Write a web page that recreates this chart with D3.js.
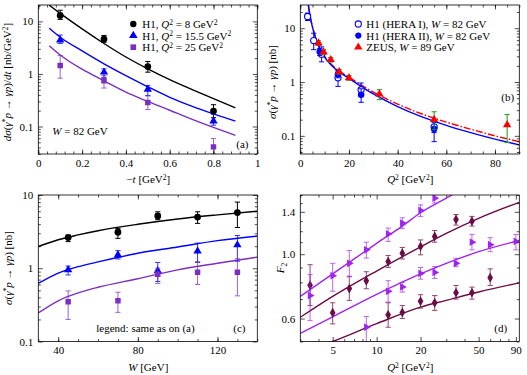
<!DOCTYPE html>
<html>
<head>
<meta charset="utf-8">
<script src="https://cdn.jsdelivr.net/npm/d3@7"></script>
<style>
body { margin: 0; background: #fff; }
svg, svg text { font-family: "Liberation Serif", "Times New Roman", "DejaVu Serif", serif; font-size: 11px; }
</style>
</head>
<body>
<svg id="fig" width="527" height="375"></svg>
<script>
var FONT = '"Liberation Serif", "Times New Roman", serif';

// ---- panel (a): d sigma / dt at W = 82 GeV
var tValues = [0.1, 0.3, 0.5, 0.8];
var a8 = [13.0, 4.6, 1.38, 0.197];
var a8Lo = [10.9, 4.0, 1.08, 0.147];
var a8Hi = [16.3, 5.4, 1.73, 0.26];
var a15 = [4.4, 1.08, 0.51, 0.127];
var a15Lo = [3.8, 0.86, 0.39, 0.106];
var a15Hi = [5.5, 1.25, 0.6, 0.17];
var a25 = [1.45, 0.74, 0.285, 0.041];
var a25Lo = [0.83, 0.54, 0.21, 0.03];
var a25Hi = [2.25, 0.93, 0.38, 0.059];
var tCurve = [0.05, 0.1, 0.2, 0.3, 0.4, 0.5, 0.6, 0.7, 0.8, 0.9];
var fitA8 = [20.3, 14.2, 7.2, 3.8, 2.1, 1.25, 0.78, 0.51, 0.34, 0.226];
var fitA15 = [7.4, 5.0, 2.75, 1.56, 0.93, 0.57, 0.36, 0.245, 0.174, 0.127];
var fitA25 = [3.45, 2.3, 1.23, 0.74, 0.45, 0.30, 0.204, 0.138, 0.096, 0.068];

// ---- panel (b): sigma vs Q2
var heraIQ2 = [3, 5.5, 8.75, 15.5, 25, 55];
var heraI = [16.5, 5.9, 3.3, 1.2, 0.72, 0.147];
var heraILo = [13.9, 4.0, 2.37, 0.83, 0.56, 0.115];
var heraIHi = [19.1, 8.06, 4.5, 1.54, 0.96, 0.178];
var heraIIQ2 = [8, 15.5, 25, 55];
var heraII = [3.65, 1.4, 0.58, 0.134];
var heraIILo = [3.1, 1.2, 0.42, 0.078];
var heraIIHi = [4.2, 1.65, 0.75, 0.19];
var zeusQ2 = [7.5, 9.6, 12.5, 16, 20, 32.5, 55, 85];
var zeus = [5.3, 3.6, 2.6, 1.55, 1.2, 0.6, 0.2, 0.16];
var zeusLo = [4.8, 3.2, 2.35, 1.4, 1.08, 0.47, 0.13, 0.075];
var zeusHi = [5.8, 4.0, 2.85, 1.72, 1.32, 0.72, 0.28, 0.25];
var bCurveQ2 = [3.3, 4, 5, 6, 8, 10, 15, 20, 30, 40, 50, 60, 70, 80, 90];
var fitB82 = [27, 17, 10.5, 7.3, 4.1, 2.9, 1.65, 1.17, 0.6, 0.35, 0.225, 0.157, 0.115, 0.087, 0.068];
var fitB89 = [27, 17, 10.7, 7.4, 4.2, 3.0, 1.72, 1.23, 0.65, 0.39, 0.255, 0.18, 0.133, 0.1, 0.078];

// ---- panel (c): sigma vs W
var wValues = [45, 70, 90, 110, 130];
var c8 = [2.62, 3.1, 5.17, 5.0, 5.75];
var c8Lo = [2.31, 2.56, 4.6, 4.1, 3.6];
var c8Hi = [2.85, 3.5, 5.9, 5.9, 8.0];
var c15 = [0.95, 1.52, 0.92, 1.72, 2.08];
var c15Lo = [0.81, 1.34, 0.66, 1.2, 1.25];
var c15Hi = [1.07, 1.74, 1.2, 2.2, 2.8];
var c25 = [0.35, 0.36, 0.83, 0.88, 0.88];
var c25Lo = [0.2, 0.25, 0.62, 0.6, 0.42];
var c25Hi = [0.49, 0.47, 1.0, 1.23, 1.35];
var wCurve = [30, 40, 50, 60, 80, 100, 120, 140];
var fitC8 = [1.98, 2.45, 2.85, 3.25, 3.98, 4.7, 5.35, 6.0];
var fitC15 = [0.62, 0.86, 1.05, 1.22, 1.6, 1.95, 2.38, 2.75];
var fitC25 = [0.245, 0.36, 0.46, 0.55, 0.72, 0.95, 1.17, 1.42];

// ---- panel (d): F2 vs Q2
var dDiaQ2 = [3.5, 5, 6.5, 8.5, 12, 12, 15, 15, 20, 20, 25, 25, 35, 35, 45, 45, 60];
var dDia = [0.782, 0.628, 0.761, 0.81, 0.943, 0.618, 1.008, 0.63, 1.064, 0.688, 1.152, 0.68, 1.317, 0.737, 1.3, 0.737, 0.83];
var dDiaLo = [0.665, 0.575, 0.693, 0.76, 0.90, 0.56, 0.963, 0.6, 0.995, 0.652, 1.1, 0.64, 1.26, 0.70, 1.25, 0.70, 0.78];
var dDiaHi = [0.92, 0.68, 0.836, 0.87, 0.99, 0.68, 1.055, 0.665, 1.12, 0.725, 1.206, 0.72, 1.37, 0.78, 1.35, 0.77, 0.89];
var dTriQ2 = [3.5, 5, 6.5, 8.5, 8.5, 12, 12, 15, 15, 20, 20, 25, 25, 35, 45, 60, 90];
var dTri = [0.72, 0.843, 0.93, 1.035, 0.56, 1.174, 0.745, 1.28, 0.771, 1.416, 0.858, 1.56, 0.865, 0.93, 1.1, 1.078, 1.107];
var dTriLo = [0.59, 0.745, 0.84, 0.97, 0.5, 1.107, 0.684, 1.225, 0.74, 1.35, 0.82, 1.5, 0.825, 0.906, 1.035, 1.02, 1.035];
var dTriHi = [0.85, 0.93, 1.03, 1.1, 0.61, 1.23, 0.81, 1.335, 0.80, 1.48, 0.9, 1.6, 0.906, 0.968, 1.17, 1.14, 1.17];
var dCurveQ2 = [3, 5, 10, 20, 30, 50, 95];
var fitD1 = [0.454, 0.5, 0.576, 0.657, 0.693, 0.741, 0.796];
var fitD2 = [0.533, 0.608, 0.727, 0.855, 0.93, 1.02, 1.115];
var fitD3 = [0.606, 0.715, 0.875, 1.06, 1.18, 1.33, 1.51];
var dCurveQ2b = [3, 5, 8.5, 10, 15, 20, 30, 35];
var fitD4 = [0.715, 0.855, 1.03, 1.09, 1.25, 1.39, 1.56, 1.63];

var black = '#000', blue = '#0000ff', purple = '#7b2fc0', red = '#ff0000', green = '#1e9a1e';
var maroon = '#6a0c45', violet = '#a024ee';

var svg = d3.select('#fig').attr('font-family', FONT);
var clipId = 0;

function panel(left, top, width, height, x, y) {
    var g = svg.append('g').attr('transform', 'translate(' + left + ',' + top + ')');
    var id = 'clip' + (clipId++);
    g.append('clipPath').attr('id', id)
        .append('rect').attr('width', width).attr('height', height);
    var plot = g.append('g').attr('clip-path', 'url(#' + id + ')');
    return { g: g, plot: plot, w: width, h: height, x: x, y: y };
}

function styleAxis(a) {
    a.select('.domain').remove();
    a.attr('font-family', FONT).attr('font-size', 11);
    a.selectAll('line').attr('stroke', '#000').attr('stroke-width', 0.7);
    a.selectAll('text').attr('fill', '#000').style('font-family', FONT).style('font-size', '11px');
}

function axes(p, xMaj, xMin, yMaj, yMin, xFmt, yFmt) {
    var sets = [
        [d3.axisBottom, p.x, 'translate(0,' + p.h + ')', xMaj, xMin, xFmt],
        [d3.axisTop, p.x, null, xMaj, xMin, null],
        [d3.axisLeft, p.y, null, yMaj, yMin, yFmt],
        [d3.axisRight, p.y, 'translate(' + p.w + ',0)', yMaj, yMin, null]
    ];
    sets.forEach(function(s) {
        var major = s[0](s[1]).tickValues(s[3]).tickSize(-4.5).tickPadding(5)
            .tickFormat(s[5] ? s[5] : function() { return ''; });
        var minor = s[0](s[1]).tickValues(s[4]).tickSize(-2.5).tickFormat(function() { return ''; });
        var a1 = p.g.append('g').call(major);
        var a2 = p.g.append('g').call(minor);
        if (s[2]) { a1.attr('transform', s[2]); a2.attr('transform', s[2]); }
        styleAxis(a1); styleAxis(a2);
    });
    p.g.append('rect').attr('width', p.w).attr('height', p.h)
        .attr('fill', 'none').attr('stroke', '#000').attr('stroke-width', 0.8);
}

function curve(p, xs, ys, color, dash) {
    var line = d3.line()
        .x(function(d) { return p.x(d[0]); })
        .y(function(d) { return p.y(d[1]); })
        .curve(d3.curveMonotoneX);
    p.plot.append('path')
        .datum(xs.map(function(v, i) { return [v, ys[i]]; }))
        .attr('d', line)
        .attr('fill', 'none')
        .attr('stroke', color)
        .attr('stroke-width', 1.4)
        .attr('stroke-dasharray', dash || null);
}

function points(p, xs, ys, lo, hi, o) {
    var data = xs.map(function(v, i) { return { x: v, y: ys[i], lo: lo[i], hi: hi[i] }; });
    var gg = p.plot.append('g');
    var e = gg.selectAll('.err').data(data).enter().append('g')
        .attr('stroke', o.err || o.color).attr('stroke-width', 1).attr('opacity', o.errOpacity || 1);
    e.append('line')
        .attr('x1', function(d) { return p.x(d.x); }).attr('x2', function(d) { return p.x(d.x); })
        .attr('y1', function(d) { return p.y(d.lo); }).attr('y2', function(d) { return p.y(d.hi); });
    ['lo', 'hi'].forEach(function(k) {
        e.append('line')
            .attr('x1', function(d) { return p.x(d.x) - 2.6; }).attr('x2', function(d) { return p.x(d.x) + 2.6; })
            .attr('y1', function(d) { return p.y(d[k]); }).attr('y2', function(d) { return p.y(d[k]); });
    });
    gg.selectAll('.pt').data(data).enter().append('path')
        .attr('d', d3.symbol().type(o.type).size(o.size || 32))
        .attr('transform', function(d) {
            return 'translate(' + p.x(d.x) + ',' + p.y(d.y) + ')' + (o.rotate ? ' rotate(' + o.rotate + ')' : '');
        })
        .attr('fill', o.open ? '#fff' : o.color)
        .attr('stroke', o.color)
        .attr('stroke-width', o.open ? 1.1 : 0);
}

function rich(sel, parts) {
    var shift = 0;
    parts.forEach(function(pt) {
        var target = pt[1] === 'sup' ? -3.5 : pt[1] === 'sub' ? 3 : 0;
        var ts = sel.append('tspan').text(pt[0]).attr('dy', target - shift);
        shift = target;
        if (pt[1] === 'i') ts.style('font-style', 'italic');
        if (pt[1] === 'sup' || pt[1] === 'sub') ts.style('font-size', '7.5px');
    });
    return sel;
}

function label(p, x, y, parts, anchor, rot) {
    var t = p.g.append('text').attr('fill', '#000').attr('text-anchor', anchor || 'start')
        .style('font-family', FONT).style('font-size', '11px');
    if (rot) t.attr('transform', 'translate(' + x + ',' + y + ') rotate(-90)');
    else t.attr('x', x).attr('y', y);
    return rich(t, parts);
}

function logTicks(scale) {
    var all = scale.ticks();
    var maj = all.filter(function(v) { return Math.abs(Math.log10(v) - Math.round(Math.log10(v))) < 1e-9; });
    var min = all.filter(function(v) { return maj.indexOf(v) < 0; });
    return [maj, min];
}
var fmtLog = function(v) { return v >= 1 ? d3.format('d')(v) : String(v); };

// ================= (a)
var pa = panel(38.3, 5, 219, 149,
    d3.scaleLinear().domain([0, 1]).range([0, 219]),
    d3.scaleLog().domain([0.03, 20.5]).range([149, 0]));
var ya = logTicks(pa.y);
axes(pa, d3.range(0, 1.01, 0.2), d3.range(0, 1.001, 0.04), ya[0], ya[1],
    function(v) { return v === 0 || v === 1 ? d3.format('d')(v) : d3.format('.1f')(v); }, fmtLog);
curve(pa, tCurve, fitA8, black);
curve(pa, tCurve, fitA15, blue);
curve(pa, tCurve, fitA25, purple);
points(pa, tValues, a8, a8Lo, a8Hi, { type: d3.symbolCircle, color: black, size: 36 });
points(pa, tValues, a15, a15Lo, a15Hi, { type: d3.symbolTriangle, color: blue, size: 30, errOpacity: 0.8 });
points(pa, tValues, a25, a25Lo, a25Hi, { type: d3.symbolSquare, color: purple, size: 30, errOpacity: 0.75 });
var legA = [[black, d3.symbolCircle, '8'], [blue, d3.symbolTriangle, '15.5'], [purple, d3.symbolSquare, '25']];
legA.forEach(function(l, i) {
    var yy = 19 + i * 11.6;
    pa.g.append('path').attr('d', d3.symbol().type(l[1]).size(32))
        .attr('transform', 'translate(95,' + yy + ')').attr('fill', l[0]);
    label(pa, 104, yy + 4, [['H1, '], ['Q', 'i'], ['2', 'sup'], [' = ' + l[2] + ' GeV'], ['2', 'sup']]);
});
label(pa, 14, 130, [['W', 'i'], [' = 82 GeV']]);
label(pa, 198, 143, [['(a)']]);
label(pa, 110, 178, [['\u2212'], ['t', 'i'], [' [GeV'], ['2', 'sup'], [']']], 'middle');
label(pa, -27, 77, [['d\u03c3', 'i'], ['('], ['\u03b3', 'i'], ['*', 'sup'], ['p', 'i'], [' \u2192 '], ['\u03b3p', 'i'], [')/'], ['dt', 'i'], [' [nb/GeV'], ['2', 'sup'], [']']], 'middle', true);

// ================= (b)
var pb = panel(300.3, 5, 219, 149,
    d3.scaleLinear().domain([0, 90]).range([0, 219]),
    d3.scaleLog().domain([0.046, 27]).range([149, 0]));
var yb = logTicks(pb.y);
axes(pb, d3.range(0, 81, 20), d3.range(0, 91, 5), yb[0], yb[1], d3.format('d'), fmtLog);
curve(pb, bCurveQ2, fitB89, red, '7,2,1.5,2');
curve(pb, bCurveQ2, fitB82, blue);
points(pb, heraIQ2, heraI, heraILo, heraIHi, { type: d3.symbolCircle, color: blue, size: 30, open: true });
points(pb, heraIIQ2, heraII, heraIILo, heraIIHi, { type: d3.symbolCircle, color: blue, size: 34 });
points(pb, zeusQ2, zeus, zeusLo, zeusHi, { type: d3.symbolTriangle, color: red, size: 30, err: green });
var legB = [[blue, d3.symbolCircle, true, 'H1 (HERA I), ', '82'], [blue, d3.symbolCircle, false, 'H1 (HERA II), ', '82'], [red, d3.symbolTriangle, false, 'ZEUS, ', '89']];
legB.forEach(function(l, i) {
    var yy = 19 + i * 11.6;
    pb.g.append('path').attr('d', d3.symbol().type(l[1]).size(30))
        .attr('transform', 'translate(58,' + yy + ')')
        .attr('fill', l[2] ? '#fff' : l[0]).attr('stroke', l[0]).attr('stroke-width', l[2] ? 1.1 : 0);
    label(pb, 66, yy + 4, [[l[3]], ['W', 'i'], [' = ' + l[4] + ' GeV']]);
});
label(pb, 201, 96, [['(b)']]);
label(pb, 110, 178, [['Q', 'i'], ['2', 'sup'], ['  [GeV'], ['2', 'sup'], [']']], 'middle');
label(pb, -24, 77, [['\u03c3', 'i'], ['('], ['\u03b3', 'i'], ['*', 'sup'], ['p', 'i'], [' \u2192 '], ['\u03b3p', 'i'], [') [nb]']], 'middle', true);

// ================= (c)
var pc = panel(38.3, 195, 219, 146.5,
    d3.scaleLinear().domain([30, 140]).range([0, 219]),
    d3.scaleLog().domain([0.1, 10]).range([146.5, 0]));
var yc = logTicks(pc.y);
axes(pc, [40, 80, 120], d3.range(30, 141, 10), yc[0], yc[1], d3.format('d'), fmtLog);
curve(pc, wCurve, fitC8, black);
curve(pc, wCurve, fitC15, blue);
curve(pc, wCurve, fitC25, purple);
points(pc, wValues, c8, c8Lo, c8Hi, { type: d3.symbolCircle, color: black, size: 36 });
points(pc, wValues, c15, c15Lo, c15Hi, { type: d3.symbolTriangle, color: blue, size: 30, errOpacity: 0.8 });
points(pc, wValues, c25, c25Lo, c25Hi, { type: d3.symbolSquare, color: purple, size: 30, errOpacity: 0.75 });
label(pc, 58, 137, [['legend: same as on (a)']]);
label(pc, 195, 137, [['(c)']]);
label(pc, 110, 176, [['W', 'i'], ['  [GeV]']], 'middle');
label(pc, -26, 73, [['\u03c3', 'i'], ['('], ['\u03b3', 'i'], ['*', 'sup'], ['p', 'i'], [' \u2192 '], ['\u03b3p', 'i'], [') [nb]']], 'middle', true);

// ================= (d)
var pd = panel(300.3, 195, 219, 146.5,
    d3.scaleLog().domain([3, 95]).range([0, 219]),
    d3.scaleLog().domain([0.5, 1.6]).range([146.5, 0]));
var xdMaj = [5, 10, 20, 50, 90];
var xdMin = pd.x.ticks().filter(function(v) { return xdMaj.indexOf(v) < 0; });
var ydAll = d3.range(5, 17).map(function(v) { return v / 10; });
var ydMaj = [0.6, 1.0, 1.4];
var ydMin = ydAll.filter(function(v) { return ydMaj.indexOf(v) < 0; });
axes(pd, xdMaj, xdMin, ydMaj, ydMin, d3.format('d'), d3.format('.1f'));
curve(pd, dCurveQ2, fitD1, maroon);
curve(pd, dCurveQ2, fitD2, violet);
curve(pd, dCurveQ2, fitD3, maroon);
curve(pd, dCurveQ2b, fitD4, violet);
points(pd, dDiaQ2, dDia, dDiaLo, dDiaHi, { type: d3.symbolDiamond, color: maroon, size: 28, errOpacity: 0.75 });
points(pd, dTriQ2, dTri, dTriLo, dTriHi, { type: d3.symbolTriangle, color: violet, size: 26, rotate: 90, errOpacity: 0.7 });
label(pd, 194, 137, [['(d)']]);
label(pd, 110, 176, [['Q', 'i'], ['2', 'sup'], ['  [GeV'], ['2', 'sup'], [']']], 'middle');
label(pd, -16, 73, [['F', 'i'], ['2', 'sub']], 'middle', true);
</script>
</body>
</html>
